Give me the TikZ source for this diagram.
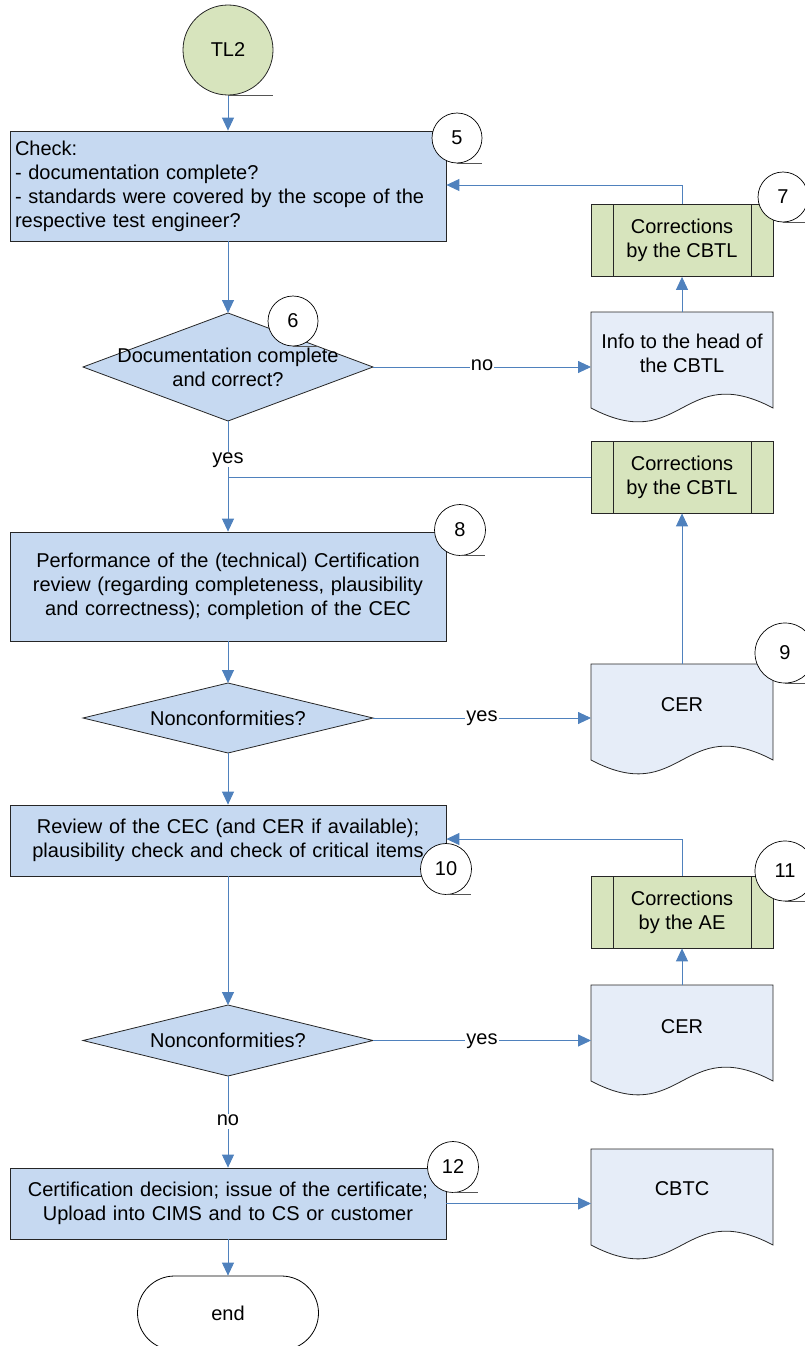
\documentclass[tikz,border=0pt]{standalone}
\usepackage{fontspec}
\setmainfont{Liberation Sans}
\usetikzlibrary{arrows.meta,shapes.geometric,calc}
\definecolor{boxblue}{HTML}{C6D9F1}
\definecolor{boxgreen}{HTML}{D7E4BD}
\definecolor{docblue}{HTML}{E6EDF8}
\definecolor{lineblue}{HTML}{4F81BD}
\definecolor{edgegray}{HTML}{262626}
\definecolor{ulgray}{HTML}{555555}
\newcommand\docpath[1]{\path[draw=edgegray, fill=docblue, line width=0.8pt] (#1.south west) -- (#1.north west) -- (#1.north east) -- (#1.south east) .. controls ($(#1.south)+(0,-48)$) and ($(#1.south)+(0,48)$) .. (#1.south west) -- cycle;}
\begin{document}
\begin{tikzpicture}[x=1pt,y=-1pt, font=\fontsize{20}{24}\selectfont,
  proc/.style={draw=edgegray, fill=boxblue, line width=0.8pt, minimum width=436pt, minimum height=#1, inner sep=0pt, text width=426pt, align=center},
  dec/.style={diamond, draw=edgegray, fill=boxblue, line width=0.8pt, minimum width=290pt, minimum height=#1, inner sep=0pt, outer sep=0pt},
  pp/.style={draw=edgegray, fill=boxgreen, line width=0.8pt, minimum width=182pt, minimum height=72pt, align=center, inner sep=0pt,
    path picture={\draw[edgegray, line width=0.8pt] ([xshift=22pt]path picture bounding box.north west) -- ([xshift=22pt]path picture bounding box.south west);
      \draw[edgegray, line width=0.8pt] ([xshift=-22pt]path picture bounding box.north east) -- ([xshift=-22pt]path picture bounding box.south east);}},
  docbox/.style={minimum width=182pt, minimum height=96pt, inner sep=0pt, outer sep=0pt},
  badge/.style={circle, draw=black, fill=white, line width=0.7pt, minimum size=#1, inner sep=0pt},
  uline/.style={draw=ulgray, line width=0.8pt},
  flow/.style={draw=lineblue, line width=0.9pt, -{Triangle[length=13pt,width=12pt]}},
  plain/.style={draw=lineblue, line width=0.9pt},
  lbl/.style={fill=white, inner sep=1pt, text height=10pt, text depth=3pt}]
\useasboundingbox (0,0) rectangle (804,1346);

% main column
\node[circle, draw=edgegray, fill=boxgreen, line width=0.8pt, minimum size=90pt, inner sep=0pt] (tl2) at (228,50) {TL2};
\node[proc=110pt, align=left, inner sep=5pt, text width=426pt] (box5) at (228,186)
  {Check:\\- documentation complete?\\- standards were covered by the scope of the\\respective test engineer?};
\node[dec=108pt] (d6) at (228,367) {};
\node at (d6.center) [align=center] {Documentation complete\\and correct?};
\node[proc=109pt] (box8) at (228,586.5)
  {Performance of the (technical) Certification\\review (regarding completeness, plausibility\\and correctness); completion of the CEC};
\node[dec=70pt] (d2) at (228,718) {};
\node at (d2.center) {Nonconformities?};
\node[proc=71pt] (box10) at (228,840.5)
  {Review of the CEC (and CER if available);\\plausibility check and check of critical items};
\node[dec=71pt] (d3) at (228,1040.5) {};
\node at (d3.center) {Nonconformities?};
\node[proc=71pt] (box12) at (228,1203.5)
  {Certification decision; issue of the certificate;\\Upload into CIMS and to CS or customer};
\node[draw=black, fill=white, line width=0.8pt, rounded corners=37pt, minimum width=181pt, minimum height=74pt] (end) at (228,1313) {end};

% right column
\node[pp] (c7) at (682,240.5) {Corrections\\by the CBTL};
\node[docbox] (info) at (682,360) {};
\docpath{info}
\node[align=center] at ($(info.north)+(0,41)$) {Info to the head of\\the CBTL};
\node[pp] (cB) at (682,477) {Corrections\\by the CBTL};
\node[docbox] (cer1) at (682,712) {};
\docpath{cer1}
\node at ($(cer1.north)+(0,41)$) {CER};
\node[pp] (c11) at (682,912) {Corrections\\by the AE};
\node[docbox] (cer2) at (682,1033) {};
\docpath{cer2}
\node at ($(cer2.north)+(0,42)$) {CER};
\node[docbox] (cbtc) at (682,1197) {};
\docpath{cbtc}
\node at ($(cbtc.north)+(0,40)$) {CBTC};

% connectors
\draw[flow] (tl2.south) -- (box5.north);
\draw[flow] (box5.south) -- (d6.north);
\draw[flow] (d6.east) -- node[lbl] {no} (d6.east -| info.west);
\draw[flow] (info.north) -- (c7.south);
\draw[flow] (c7.north) |- ($(box5.east)+(0,-1)$);
\draw[flow] (d6.south) -- node[lbl, pos=0.35] {yes} (box8.north);
\draw[plain] (cB.west) -- (cB.west -| box8.north);
\draw[flow] (box8.south) -- (d2.north);
\draw[flow] (d2.east) -- node[lbl] {yes} (d2.east -| cer1.west);
\draw[flow] (cer1.north) -- (cB.south);
\draw[flow] (d2.south) -- (box10.north);
\draw[flow] (c11.north) |- ($(box10.east)+(0,-1.5)$);
\draw[flow] (cer2.north) -- (c11.south);
\draw[flow] (box10.south) -- (d3.north);
\draw[flow] (d3.east) -- node[lbl] {yes} (d3.east -| cer2.west);
\draw[flow] (d3.south) -- node[lbl] {no} (box12.north);
\draw[flow] (box12.east) -- (box12.east -| cbtc.west);
\draw[flow] (box12.south) -- (end.north);

% badges
\draw[uline] (tl2.south) -- ++(45,0);
\node[badge=50pt] (b5) at (457,138) {5};
\draw[uline] (b5.south) -- ++(25,0);
\node[badge=50pt] (b6) at (293,321) {6};
\draw[uline] (b6.south) -- ++(25,0);
\node[badge=50pt] (b7) at (783,197) {7};
\draw[uline] (b7.south) -- ++(25,0);
\node[badge=51pt] (b8) at (460,530) {8};
\draw[uline] (b8.south) -- ++(25,0);
\node[badge=60pt] (b9) at (785,653) {9};
\draw[uline] (b9.south) -- ++(30,0);
\node[badge=51pt] (b10) at (446,869) {10};
\draw[uline] (b10.south) -- ++(25,0);
\node[badge=60pt] (b11) at (785,871) {11};
\draw[uline] (b11.south) -- ++(30,0);
\node[badge=51pt] (b12) at (453,1167) {12};
\draw[uline] (b12.south) -- ++(25,0);
\end{tikzpicture}
\end{document}
